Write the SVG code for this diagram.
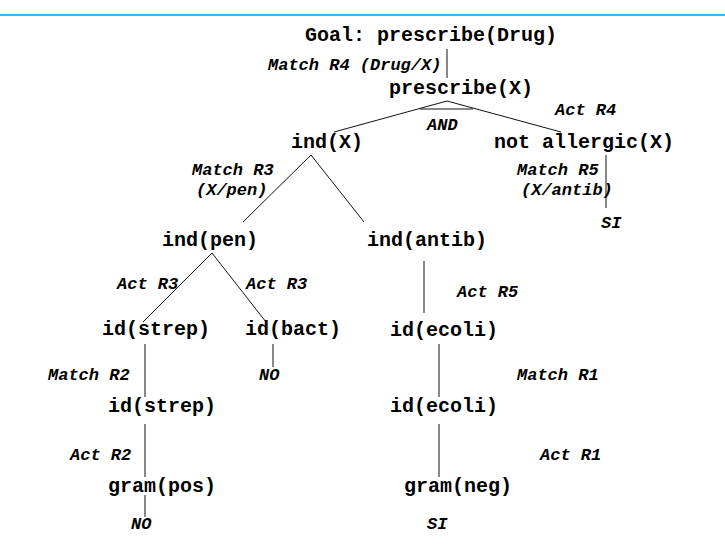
<svg xmlns="http://www.w3.org/2000/svg" width="725" height="546" viewBox="0 0 725 546">
<style>
.n{font-family:"Liberation Mono","Courier New",monospace;font-weight:bold;font-size:20px;fill:#000}
.l{font-family:"Liberation Mono","Courier New",monospace;font-weight:bold;font-style:italic;font-size:17px;fill:#000}
.c line{stroke:#111;stroke-width:1}
</style>
<rect width="725" height="546" fill="#fff"/>
<line x1="0" y1="15" x2="725" y2="15" stroke="#44aef5" stroke-width="2"/>
<g class="c" id="connectors">
<line x1="447" y1="49" x2="447" y2="78"/>
<line x1="447" y1="101" x2="334" y2="132"/>
<line x1="447" y1="101" x2="561" y2="132"/>
<line x1="420" y1="109" x2="473" y2="109"/>
<line x1="606" y1="155" x2="606" y2="208"/>
<line x1="311" y1="155" x2="243" y2="222"/>
<line x1="311" y1="155" x2="364" y2="222"/>
<line x1="212" y1="253" x2="143" y2="322"/>
<line x1="212" y1="253" x2="266" y2="322"/>
<line x1="273" y1="344" x2="273" y2="367"/>
<line x1="145" y1="344" x2="145" y2="397"/>
<line x1="145" y1="424" x2="145" y2="477"/>
<line x1="145" y1="495" x2="145" y2="517"/>
<line x1="424" y1="261" x2="424" y2="313"/>
<line x1="439" y1="344" x2="439" y2="397"/>
<line x1="439" y1="424" x2="439" y2="477"/>
</g>
<g id="labels">
<text class="l" x="268" y="70">Match R4 (Drug/X)</text>
<text class="l" x="427" y="130">AND</text>
<text class="l" x="555" y="115">Act R4</text>
<text class="l" x="517" y="175">Match R5</text>
<text class="l" x="521" y="195">(X/antib)</text>
<text class="l" x="601" y="228">SI</text>
<text class="l" x="192" y="175">Match R3</text>
<text class="l" x="196" y="195">(X/pen)</text>
<text class="l" x="117" y="289">Act R3</text>
<text class="l" x="246" y="289">Act R3</text>
<text class="l" x="259" y="380">NO</text>
<text class="l" x="48" y="380">Match R2</text>
<text class="l" x="70" y="460">Act R2</text>
<text class="l" x="131" y="529">NO</text>
<text class="l" x="457" y="297">Act R5</text>
<text class="l" x="517" y="380">Match R1</text>
<text class="l" x="540" y="460">Act R1</text>
<text class="l" x="427" y="529">SI</text>
</g>
<g id="goal"><text class="n" x="305" y="41">Goal: prescribe(Drug)</text></g>
<g id="prescribeX"><text class="n" x="389" y="94">prescribe(X)</text></g>
<g id="indX"><text class="n" x="291" y="148">ind(X)</text></g>
<g id="notAllergic"><text class="n" x="494" y="148">not allergic(X)</text></g>
<g id="indPen"><text class="n" x="162" y="246">ind(pen)</text></g>
<g id="indAntib"><text class="n" x="367" y="246">ind(antib)</text></g>
<g id="idStrep1"><text class="n" x="102" y="335">id(strep)</text></g>
<g id="idBact"><text class="n" x="245" y="335">id(bact)</text></g>
<g id="idStrep2"><text class="n" x="108" y="412">id(strep)</text></g>
<g id="gramPos"><text class="n" x="108" y="492">gram(pos)</text></g>
<g id="idEcoli1"><text class="n" x="390" y="336">id(ecoli)</text></g>
<g id="idEcoli2"><text class="n" x="390" y="412">id(ecoli)</text></g>
<g id="gramNeg"><text class="n" x="404" y="492">gram(neg)</text></g>
</svg>
